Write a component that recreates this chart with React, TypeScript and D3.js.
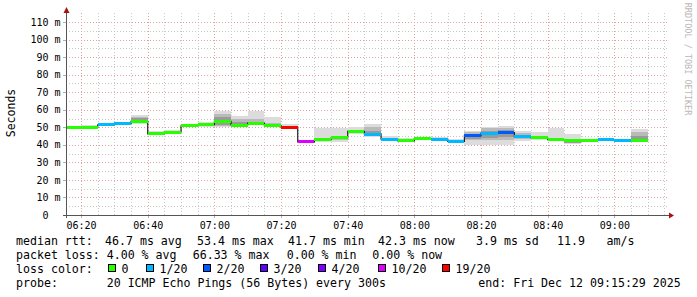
import React from 'react';
import * as d3 from 'd3';

// ---------- data ----------
const graphStart = "06:15:29";
const graphEnd = "09:15:29";
const segStarts = [
  "06:15", "06:20", "06:25", "06:30", "06:35", "06:40", "06:45", "06:50", "06:55",
  "07:00", "07:05", "07:10", "07:15", "07:20", "07:25", "07:30", "07:35", "07:40",
  "07:45", "07:50", "07:55", "08:00", "08:05", "08:10", "08:15", "08:20", "08:25",
  "08:30", "08:35", "08:40", "08:45", "08:50", "08:55", "09:00", "09:05"
];
const lastSegEnd = "09:10";
const medianMs = [
  50.0, 50.0, 51.4, 52.2, 53.4, 46.2, 47.3, 50.8, 51.5,
  53.4, 51.3, 52.4, 51.0, 50.0, 41.7, 42.9, 43.9, 47.7,
  46.1, 43.2, 42.3, 43.4, 43.2, 41.9, 45.3, 46.7, 47.0,
  44.5, 43.9, 43.0, 42.3, 42.6, 43.0, 42.4, 42.3
];
const lossCount = [
  0, 0, 1, 1, 0, 0, 0, 0, 0,
  0, 0, 0, 0, 19, 10, 0, 0, 0,
  1, 1, 0, 0, 1, 1, 2, 1, 2,
  1, 0, 0, 0, 0, 1, 1, 0
];
const smokeOuterLo = [
  49.6, 49.6, 51.0, 51.8, 51.7, 45.4, 46.9, 50.3, 50.0,
  50.3, 49.9, 51.1, 50.2, 49.8, 41.3, 41.4, 41.8, 46.2,
  44.6, 42.6, 42.0, 42.7, 42.8, 41.4, 39.9, 39.9, 40.0,
  42.4, 42.8, 42.2, 40.7, 42.2, 42.6, 42.0, 42.0
];
const smokeOuterHi = [
  51.0, 51.2, 52.3, 53.2, 57.0, 48.1, 48.6, 51.8, 53.2,
  59.5, 56.2, 59.5, 55.7, 51.7, 42.4, 49.6, 49.6, 50.0,
  51.7, 45.2, 43.7, 44.6, 44.6, 43.5, 47.9, 50.3, 50.5,
  47.9, 47.5, 49.4, 46.4, 43.5, 44.1, 43.5, 48.8
];
const smokeMidLo = [
  null, null, null, null, 52.4, 45.8, null, null, 50.6,
  50.9, 50.3, 51.5, 50.5, null, null, 42.0, 42.5, 46.8,
  45.2, null, null, null, null, null, 42.7, 42.7, 43.0,
  43.3, 43.2, 42.6, 41.0, null, null, null, 42.2
];
const smokeMidHi = [
  null, null, null, null, 55.8, 47.0, null, null, 52.4,
  57.5, 54.7, 54.8, 52.2, null, null, 44.0, 45.0, 48.5,
  50.2, null, null, null, null, null, 47.1, 49.8, 49.5,
  46.5, 45.0, 44.0, 43.5, null, null, null, 47.5
];
const smokeInnerLo = [
  null, null, null, null, 53.0, null, null, null, null,
  51.5, 50.6, null, null, null, null, null, null, null,
  45.6, null, null, null, null, null, 43.2, 44.0, 44.5,
  null, null, null, 40.9, null, null, null, 42.5
];
const smokeInnerHi = [
  null, null, null, null, 55.2, null, null, null, null,
  55.9, 53.2, null, null, null, null, null, null, null,
  48.0, null, null, null, null, null, 46.2, 48.0, 48.5,
  null, null, null, 42.8, null, null, null, 45.0
];
const lossThresholds = [0, 1, 2, 3, 4, 10, 19];
const lossLabels = ["0", "1/20", "2/20", "3/20", "4/20", "10/20", "19/20"];
const lossColors = ["#26ff00", "#00b8ff", "#0059ff", "#5e00ff", "#7e00ff", "#dd00ff", "#ff0000"];
const yTickValues = [0, 10, 20, 30, 40, 50, 60, 70, 80, 90, 100, 110];
const yTickLabels = ["0", "10 m", "20 m", "30 m", "40 m", "50 m", "60 m", "70 m", "80 m", "90 m", "100 m", "110 m"];
const xTickLabels = ["06:20", "06:40", "07:00", "07:20", "07:40", "08:00", "08:20", "08:40", "09:00"];

const legendLine1 = [
  { x: 16, t: "median rtt:" }, { x: 105, t: "46.7 ms avg" }, { x: 197, t: "53.4 ms max" },
  { x: 288, t: "41.7 ms min" }, { x: 378, t: "42.3 ms now" }, { x: 476, t: "3.9 ms sd" },
  { x: 557, t: "11.9" }, { x: 606.5, t: "am/s" }
];
const legendLine2 = [
  { x: 16, t: "packet loss:" }, { x: 106.7, t: "4.00 % avg" }, { x: 192.7, t: "66.33 % max" },
  { x: 286.7, t: "0.00 % min" }, { x: 372.3, t: "0.00 % now" }
];
const legendLine4 = [
  { x: 16, t: "probe:" }, { x: 106.7, t: "20 ICMP Echo Pings (56 Bytes) every 300s" },
  { x: 478.3, t: "end: Fri Dec 12 09:15:29 2025" }
];
const lossBoxX = [108.5, 146.5, 203.5, 260.5, 318.5, 378.5, 442.5];

// ---------- layout ----------
const W = 697, H = 297;
const X0 = 66, X1 = 666, Y0 = 215, YT = 15;
const MONO = "'DejaVu Sans Mono', monospace";
const AXIS_FS = 10;
const LEG_FS = 11.6;

const parseHM = d3.timeParse("%H:%M");
const parseHMS = d3.timeParse("%H:%M:%S");

function lossColor(c: number) {
  let idx = 0;
  lossThresholds.forEach((t, i) => { if (c >= t) idx = i; });
  return lossColors[idx];
}

export default function App() {
  const t0 = parseHMS(graphStart)!;
  const t1 = parseHMS(graphEnd)!;
  const x = d3.scaleTime().domain([t0, t1]).range([X0, X1]);
  const y = d3.scaleLinear().domain([0, 114]).range([Y0, YT]);

  const starts = segStarts.map(s => parseHM(s)!);
  const ends = starts.slice(1).concat([parseHM(lastSegEnd)!]);
  const segX0 = starts.map(d => Math.max(X0, x(d)));
  const segX1 = ends.map(d => x(d));

  const minor = x.ticks(d3.timeMinute.every(5)!);
  const major = x.ticks(d3.timeMinute.every(20)!);
  const majorKeys = new Set(major.map(d => +d));
  const yMinor = d3.range(5, 115, 5).filter(v => v % 10 !== 0);

  const medLine = d3.line<[number, number]>()
    .x(d => d[0]).y(d => d[1]).curve(d3.curveStepAfter);
  const medPts: [number, number][] = medianMs.map((m, i) => [segX0[i], y(m)]);
  medPts.push([segX1[segX1.length - 1], y(medianMs[medianMs.length - 1])]);

  const band = (lo: (number | null)[], hi: (number | null)[], fill: string, key: string) =>
    lo.map((l, i) => {
      const h = hi[i];
      if (l == null || h == null) return null;
      return (
        <rect key={key + i} x={segX0[i]} width={segX1[i] - segX0[i]}
          y={y(h)} height={y(l) - y(h)} fill={fill} />
      );
    });

  const charW = AXIS_FS * 0.602;

  return (
    <svg width={W} height={H} style={{ position: 'absolute', left: 0, top: 0, background: '#fff' }}
      xmlns="http://www.w3.org/2000/svg">
      <rect x={0} y={0} width={W} height={H} fill="#ffffff" />
      {/* minor grid */}
      <g stroke="#c8c8c8" strokeWidth={1} strokeDasharray="1,2" shapeRendering="crispEdges">
        {minor.filter(d => !majorKeys.has(+d)).map((d, i) => (
          <line key={'vm' + i} x1={Math.round(x(d)) + 0.5} x2={Math.round(x(d)) + 0.5} y1={YT - 2} y2={Y0} />
        ))}
        {yMinor.map((v, i) => (
          <line key={'hm' + i} x1={X0} x2={X1 + 2} y1={Math.round(y(v)) + 0.5} y2={Math.round(y(v)) + 0.5} />
        ))}
      </g>
      {/* major grid */}
      <g stroke="#e4a0a0" strokeWidth={1} strokeDasharray="1,2" shapeRendering="crispEdges">
        {major.map((d, i) => (
          <line key={'vM' + i} x1={Math.round(x(d)) + 0.5} x2={Math.round(x(d)) + 0.5} y1={YT - 2} y2={Y0} />
        ))}
        {yTickValues.slice(1).map((v, i) => (
          <line key={'hM' + i} x1={X0} x2={X1 + 2} y1={Math.round(y(v)) + 0.5} y2={Math.round(y(v)) + 0.5} />
        ))}
      </g>
      {/* tick stubs */}
      <g stroke="#b0b0b0" strokeWidth={1} shapeRendering="crispEdges">
        {yTickValues.slice(1).map((v, i) => (
          <line key={'ts' + i} x1={X0 - 3} x2={X0} y1={Math.round(y(v)) + 0.5} y2={Math.round(y(v)) + 0.5} />
        ))}
        {major.map((d, i) => (
          <line key={'tx' + i} x1={Math.round(x(d)) + 0.5} x2={Math.round(x(d)) + 0.5} y1={Y0} y2={Y0 + 3} />
        ))}
      </g>
      {/* smoke */}
      <g shapeRendering="crispEdges">
        {band(smokeOuterLo, smokeOuterHi, "#dcdcdc", 'so')}
        {band(smokeMidLo, smokeMidHi, "#bababa", 'sm')}
        {band(smokeInnerLo, smokeInnerHi, "#9a9a9a", 'si')}
      </g>
      {/* median line */}
      <path d={medLine(medPts) || ''} fill="none" stroke="#202020" strokeWidth={1.2} />
      {/* loss-colored median bars */}
      <g shapeRendering="crispEdges">
        {medianMs.map((m, i) => (
          <rect key={'mb' + i} x={segX0[i]} width={segX1[i] - segX0[i]}
            y={y(m) - 1.5} height={3} fill={lossColor(lossCount[i])} />
        ))}
      </g>
      {/* axes */}
      <g stroke="#555" strokeWidth={1} shapeRendering="crispEdges">
        <line x1={X0 + 0.5} x2={X0 + 0.5} y1={Y0 + 3} y2={11} />
        <line x1={X0 - 3} x2={X1 + 3} y1={Y0 + 0.5} y2={Y0 + 0.5} />
      </g>
      <path d={`M${X0 + 0.5},7 L${X0 - 2.5},13 L${X0 + 3.5},13 Z`} fill="#aa1111" />
      <path d={`M${X1 + 8},${Y0 + 0.5} L${X1 + 3},${Y0 - 2.5} L${X1 + 3},${Y0 + 3.5} Z`} fill="#aa1111" />
      {/* y tick labels */}
      <g fontFamily={MONO} fontSize={AXIS_FS} fill="#000" textAnchor="end">
        {yTickValues.map((v, i) => (
          <text key={'yl' + i}
            x={yTickLabels[i].endsWith(' m') ? 60.5 : 60.5 - 2 * charW}
            y={y(v) + 3.6}>{yTickLabels[i]}</text>
        ))}
      </g>
      {/* x tick labels */}
      <g fontFamily={MONO} fontSize={AXIS_FS} fill="#000" textAnchor="middle">
        {major.map((d, i) => (
          <text key={'xl' + i} x={x(d) + 0.5} y={228.5}>{xTickLabels[i]}</text>
        ))}
      </g>
      {/* y title */}
      <text transform="translate(15,113) rotate(-90)" fontFamily={MONO} fontSize={11.5}
        textAnchor="middle" fill="#000">Seconds</text>
      {/* watermark */}
      <text transform="translate(685,59) rotate(90)" fontFamily={MONO} fontSize={8.5}
        textAnchor="middle" fill="#b8b8b8">RRDTOOL / TOBI OETIKER</text>
      {/* legend */}
      <g fontFamily={MONO} fontSize={LEG_FS} fill="#000" style={{ whiteSpace: 'pre' }}>
        {legendLine1.map((p, i) => <text key={'l1' + i} x={p.x} y={244.5}>{p.t}</text>)}
        {legendLine2.map((p, i) => <text key={'l2' + i} x={p.x} y={258.8}>{p.t}</text>)}
        <text x={16} y={273}>loss color:</text>
        {lossLabels.map((lab, i) => (
          <g key={'lc' + i}>
            <rect x={lossBoxX[i]} y={264.5} width={7} height={7} fill={lossColors[i]}
              stroke="#000" strokeWidth={1} shapeRendering="crispEdges" />
            <text x={lossBoxX[i] + 13} y={273}>{lab}</text>
          </g>
        ))}
        {legendLine4.map((p, i) => <text key={'l4' + i} x={p.x} y={287.3}>{p.t}</text>)}
      </g>
    </svg>
  );
}
